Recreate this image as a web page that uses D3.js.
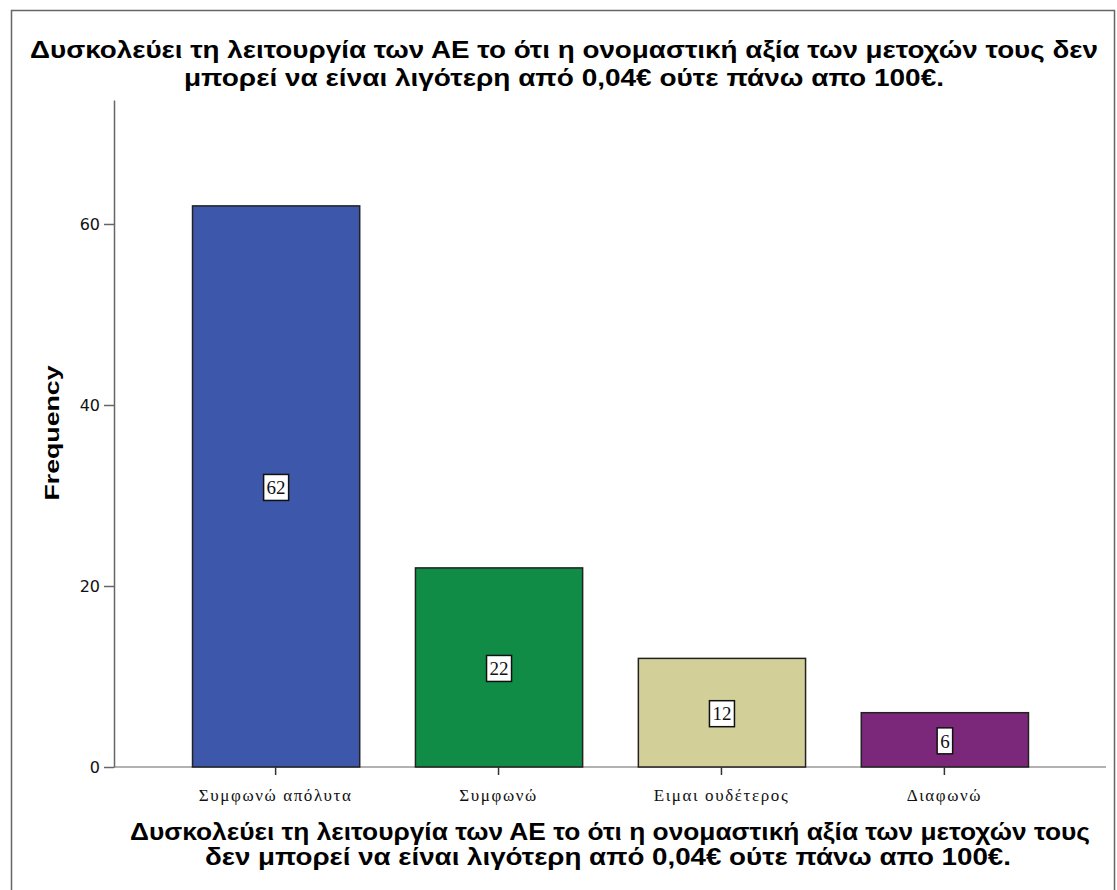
<!DOCTYPE html>
<html><head><meta charset="utf-8">
<script src="https://cdn.jsdelivr.net/npm/d3@7"></script>
<style>body{margin:0;background:#fff}svg{display:block}</style>
</head><body>
<svg id="c" width="1117" height="890"></svg>
<script>
const categories = ["Συμφωνώ απόλυτα", "Συμφωνώ", "Ειμαι ουδέτερος", "Διαφωνώ"];
const values = [62, 22, 12, 6];
const colors = ["#3d57aa", "#118c47", "#d3cf98", "#7b287b"];
const yTicks = [0, 20, 40, 60];
const titleLines = ["Δυσκολεύει τη λειτουργία των ΑΕ το ότι η ονομαστική αξία των μετοχών τους δεν",
                    "μπορεί να είναι λιγότερη από 0,04€ ούτε πάνω απο 100€."];
const xTitleLines = ["Δυσκολεύει τη λειτουργία των ΑΕ το ότι η ονομαστική αξία των μετοχών τους",
                     "δεν μπορεί να είναι λιγότερη από 0,04€ ούτε πάνω απο 100€."];
const yTitle = "Frequency";

const svg = d3.select("#c");
// frame
svg.append("path").attr("d","M11.5,890 V10.5 H1114.5 V890").attr("fill","none").attr("stroke","#666").attr("stroke-width",1.5);

const x = d3.scaleBand().domain(categories).range([114, 1106]).paddingInner(0.25).paddingOuter(0.35);
const y = d3.scaleLinear().domain([0, 73.7]).range([767, 100]);

// x axis baseline
svg.append("line").attr("x1",114).attr("x2",1106).attr("y1",y(0)).attr("y2",y(0)).attr("stroke","#999").attr("stroke-width",1.5);

// bars
svg.selectAll("rect.bar").data(values).join("rect").attr("class","bar")
  .attr("x",(d,i)=>x(categories[i])+0.5).attr("width",x.bandwidth())
  .attr("y",d=>y(d)).attr("height",d=>y(0)-y(d))
  .attr("fill",(d,i)=>colors[i]).attr("stroke","#222").attr("stroke-width",1.5);

// y axis
const yAxis = svg.append("g").attr("transform","translate(114,0)")
  .call(d3.axisLeft(y).tickValues(yTicks).tickSize(10).tickSizeOuter(0).tickPadding(4));
yAxis.select(".domain").attr("stroke","#666").attr("stroke-width",1.5);
yAxis.selectAll(".tick line").attr("stroke","#666").attr("stroke-width",1.5);
yAxis.selectAll(".tick text").attr("font-family","'DejaVu Sans', sans-serif").attr("font-size",16).attr("fill","#111");

// x axis ticks
const xAxis = svg.append("g").attr("transform",`translate(0,${y(0)})`)
  .call(d3.axisBottom(x).tickSize(8).tickSizeOuter(0).tickPadding(14));
xAxis.select(".domain").remove();
xAxis.selectAll(".tick line").attr("stroke","#333").attr("stroke-width",1.5);
xAxis.selectAll(".tick text").attr("font-family","'Liberation Serif', serif").attr("font-size",17)
  .attr("letter-spacing","1.6px").attr("fill","#111");

// value labels
const lab = svg.selectAll("g.lab").data(values).join("g").attr("class","lab")
  .attr("transform",(d,i)=>`translate(${x(categories[i])+x.bandwidth()/2+0.5},${(y(d)+y(0))/2+1})`);
lab.append("text").attr("text-anchor","middle").attr("dy","0.35em")
  .attr("font-family","'Liberation Serif', serif").attr("font-size",19).attr("fill","#111").text(d=>d);
lab.each(function(){
  const g = d3.select(this), t = g.select("text").node().getBBox();
  g.insert("rect","text").attr("x",t.x-3).attr("y",-13).attr("width",t.width+6).attr("height",26)
    .attr("fill","#fff").attr("stroke","#111").attr("stroke-width",1.5);
});

// titles
const tt = svg.append("g").attr("font-family","'Liberation Sans', Arial, sans-serif").attr("font-weight","bold").attr("font-size",24).attr("fill","#000").attr("text-anchor","middle");
tt.append("text").attr("x",564).attr("y",58).attr("textLength",1068).attr("lengthAdjust","spacingAndGlyphs").text(titleLines[0]);
tt.append("text").attr("x",564).attr("y",86).attr("textLength",760).attr("lengthAdjust","spacingAndGlyphs").text(titleLines[1]);
tt.append("text").attr("x",610).attr("y",840).attr("textLength",960).attr("lengthAdjust","spacingAndGlyphs").text(xTitleLines[0]);
tt.append("text").attr("x",608).attr("y",865).attr("textLength",806).attr("lengthAdjust","spacingAndGlyphs").text(xTitleLines[1]);

svg.append("text").attr("transform","translate(59,433) rotate(-90)").attr("text-anchor","middle")
  .attr("font-family","'Liberation Sans', Arial, sans-serif").attr("font-weight","bold").attr("font-size",21)
  .attr("textLength",135).attr("lengthAdjust","spacingAndGlyphs").text(yTitle);
</script>
</body></html>
